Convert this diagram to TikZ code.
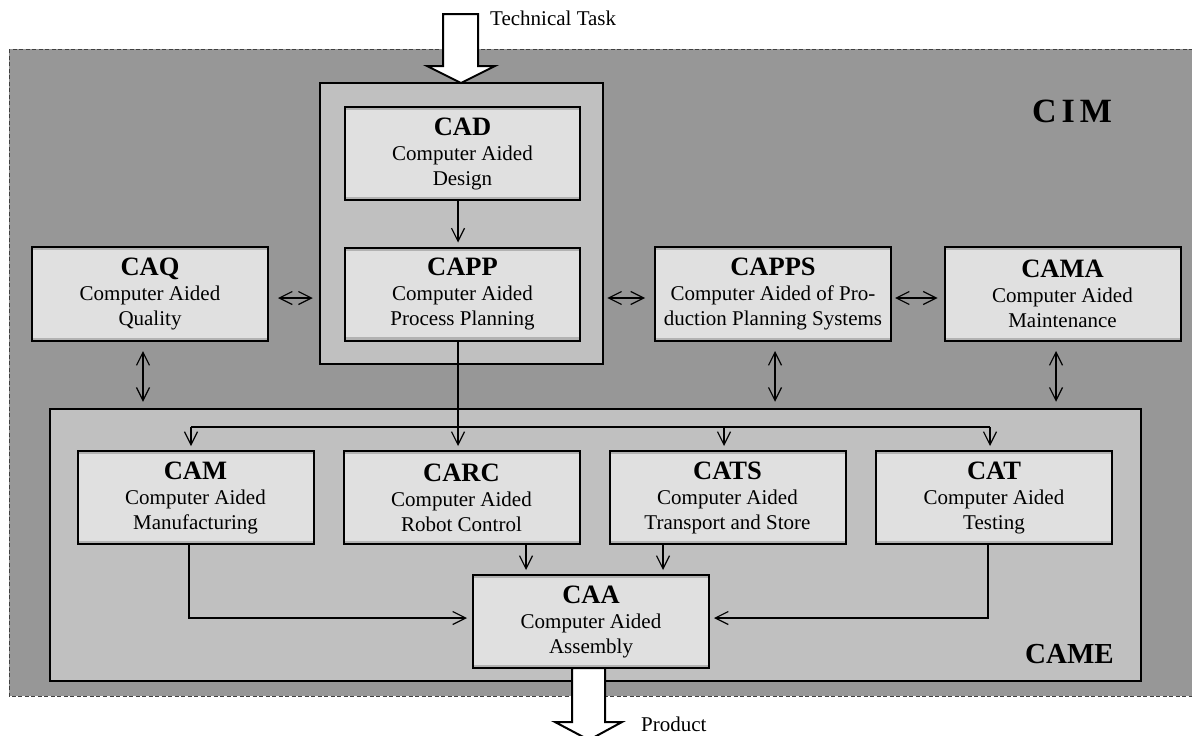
\documentclass[tikz,border=0pt]{standalone}
\usepackage{fontspec}
\setmainfont{Liberation Serif}
\usetikzlibrary{arrows.meta}
\definecolor{cimgray}{HTML}{979797}
\definecolor{midgray}{HTML}{C0C0C0}
\definecolor{boxgray}{HTML}{E0E0E0}
\definecolor{bandgray}{HTML}{B2B2B2}
\newcommand{\modtitle}[1]{{\fontsize{26.5}{25}\selectfont\bfseries #1}}
\begin{document}
\begin{tikzpicture}[x=1pt,y=-1pt,
  modbox/.style={draw, line width=2pt, fill=boxgray, minimum width=236pt, minimum height=93pt,
    inner sep=0pt, align=center, font=\fontsize{21}{25}\selectfont,
    path picture={
      \fill[bandgray] ([yshift=-1pt]path picture bounding box.north west) rectangle ([yshift=-3.2pt]path picture bounding box.north east);
      \fill[bandgray] ([yshift=1pt]path picture bounding box.south west) rectangle ([yshift=3.2pt]path picture bounding box.south east);
    }},
  grpbox/.style={draw, line width=2.5pt, fill=midgray, inner sep=0pt},
  plain/.style={line width=1.2pt},
  conn/.style={line width=1.2pt, -{Straight Barb[length=13pt,width=13pt,line width=1.2pt]}},
  dconn/.style={line width=1.2pt, {Straight Barb[length=13pt,width=13pt,line width=1.2pt]}-{Straight Barb[length=13pt,width=13pt,line width=1.2pt]}},
  bigarrow/.style={draw, line width=2pt, fill=white, line join=miter},
  lbl/.style={font=\fontsize{21}{25}\selectfont, inner sep=0pt}]
\useasboundingbox (0,0) rectangle (1192,736);
\begin{scope}
\clip (0,0) rectangle (1192,736);
% CIM background
\draw[fill=cimgray, draw=black!75, line width=1pt, dash pattern=on 4pt off 2.5pt] (9,49) rectangle (1215,696);
\node[font=\fontsize{34}{34}\selectfont\bfseries, anchor=base, inner sep=0pt] (cim) at (1072,122) {C\kern5pt I\kern5pt M};

% group boxes
\node[grpbox, minimum width=283pt, minimum height=281pt] (grp) at (461.5,223.5) {};
\node[grpbox, minimum width=1091pt, minimum height=272pt] (came) at (595.5,545) {};
\node[font=\fontsize{29}{29}\selectfont\bfseries, anchor=base east, inner sep=0pt] (camel) at (1114,663) {CAME};

% technical task arrow
\draw[bigarrow] (443,14) -- (478,14) -- (478,66) -- (495,66) -- (461,83) -- (427,66) -- (443,66) -- cycle;
\node[lbl, anchor=base west] (tt) at (490,25) {Technical Task};

% product arrow
\draw[bigarrow] (572,668) -- (572,722) -- (555,722) -- (589,740) -- (622,722) -- (605,722) -- (605,668) -- cycle;
\node[lbl, anchor=base west] (prod) at (641,731) {Product};

% module boxes
\node[modbox, minimum width=235pt] (cad) at (462.5,153.5) {\modtitle{CAD}\\Computer Aided\\Design};
\node[modbox, minimum width=235pt] (capp) at (462.5,294) {\modtitle{CAPP}\\Computer Aided\\Process Planning};
\node[modbox, minimum height=94pt] (caq) at (150,294) {\modtitle{CAQ}\\Computer Aided\\Quality};
\node[modbox, minimum height=94pt] (capps) at (773,294) {\modtitle{CAPPS}\\Computer Aided of Pro-\\duction Planning Systems};
\node[modbox, minimum height=94pt] (cama) at (1062.5,294) {\modtitle{CAMA}\\Computer Aided\\Maintenance};

\node[modbox] (cam) at (195.5,497.5) {\modtitle{CAM}\\Computer Aided\\Manufacturing};
\node[modbox] (carc) at (461.5,497.5) {\modtitle{CARC}\\Computer Aided\\Robot Control};
\node[modbox] (cats) at (727.5,497.5) {\modtitle{CATS}\\Computer Aided\\Transport and Store};
\node[modbox] (cat) at (994,497.5) {\modtitle{CAT}\\Computer Aided\\Testing};
\node[modbox] (caa) at (591,621.5) {\modtitle{CAA}\\Computer Aided\\Assembly};

% helper coordinates
\coordinate (xl) at (458,0);
\coordinate (bus) at (0,427);
\coordinate (xcam) at (191,0);
\coordinate (xcats) at (724,0);
\coordinate (xcat) at (990,0);
\coordinate (xcamo) at (189,0);
\coordinate (xcato) at (988,0);
\coordinate (xcarcd) at (526,0);
\coordinate (xcatsd) at (663,0);
\coordinate (yfeed) at (0,618);
\coordinate (yh) at (0,298);
\coordinate (xq) at (143,0);
\coordinate (xps) at (775,0);
\coordinate (xma) at (1056,0);

% connectors
\draw[conn, shorten >=4pt] (xl |- cad.south) -- (xl |- capp.north);
\draw[conn, shorten >=4pt] (xl |- capp.south) -- (xl |- carc.north);
\draw[plain] (xcam |- bus) -- (xcat |- bus);
\draw[conn, shorten >=4pt] (xcam |- bus) -- (xcam |- cam.north);
\draw[conn, shorten >=4pt] (xcats |- bus) -- (xcats |- cats.north);
\draw[conn, shorten >=4pt] (xcat |- bus) -- (xcat |- cat.north);

\draw[conn, shorten >=4pt] (xcarcd |- carc.south) -- (xcarcd |- caa.north);
\draw[conn, shorten >=4pt] (xcatsd |- cats.south) -- (xcatsd |- caa.north);
\draw[conn, shorten >=5pt] (xcamo |- cam.south) -- (xcamo |- yfeed) -- (caa.west |- yfeed);
\draw[conn, shorten >=4pt] (xcato |- cat.south) -- (xcato |- yfeed) -- (caa.east |- yfeed);

\draw[dconn, shorten <=9pt, shorten >=6pt] (caq.east |- yh) -- (grp.west |- yh);
\draw[dconn, shorten <=3pt, shorten >=9pt] (grp.east |- yh) -- (capps.west |- yh);
\draw[dconn, shorten <=3pt, shorten >=6pt] (capps.east |- yh) -- (cama.west |- yh);

\draw[dconn, shorten <=9pt, shorten >=6pt] (xq |- caq.south) -- (xq |- came.north);
\draw[dconn, shorten <=9pt, shorten >=6pt] (xps |- capps.south) -- (xps |- came.north);
\draw[dconn, shorten <=9pt, shorten >=6pt] (xma |- cama.south) -- (xma |- came.north);
\end{scope}
\end{tikzpicture}
\end{document}
